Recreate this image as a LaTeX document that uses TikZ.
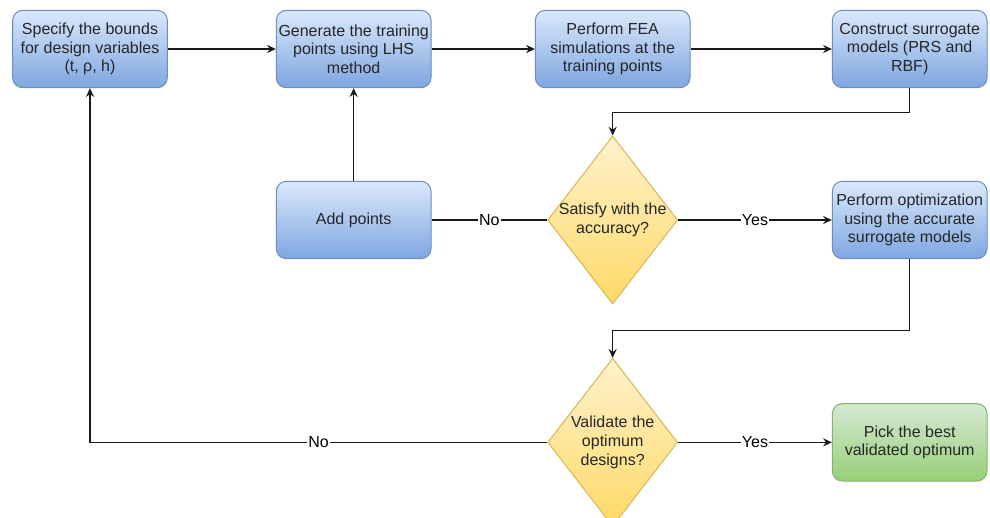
\documentclass[tikz,border=0pt]{standalone}
\usepackage{fontspec}
\setmainfont{Liberation Sans}
\usepackage{tikz}
\usetikzlibrary{arrows.meta,positioning,shapes.geometric}
\definecolor{BlueTop}{HTML}{DAE8FC}
\definecolor{BlueBot}{HTML}{7EA6E0}
\definecolor{BlueLine}{HTML}{6C8EBF}
\definecolor{YelTop}{HTML}{FFF2CC}
\definecolor{YelBot}{HTML}{FFD966}
\definecolor{YelLine}{HTML}{D6B656}
\definecolor{GrnTop}{HTML}{D5E8D4}
\definecolor{GrnBot}{HTML}{97D077}
\definecolor{GrnLine}{HTML}{82B366}

\begin{document}
\begin{tikzpicture}[
    x=0.75pt, y=-0.75pt,
    font=\fontsize{12}{13.9}\selectfont,
    stepbox/.style={draw=BlueLine, rounded corners=7.5pt, top color=BlueTop, bottom color=BlueBot,
      minimum width=116pt, minimum height=58pt, inner sep=1pt, align=center, text=black!85, line width=0.75pt},
    endbox/.style={stepbox, draw=GrnLine, top color=GrnTop, bottom color=GrnBot},
    decision/.style={diamond, draw=YelLine, top color=YelTop, bottom color=YelBot, inner sep=-6pt,
      minimum width=97.5pt, minimum height=126pt, align=center, text=black!85, line width=0.75pt},
    flow/.style={-{Stealth[length=6.5pt,width=6pt]}, line width=1pt, black!90},
    plain/.style={line width=1pt, black!90},
    lbl/.style={fill=white, inner sep=1pt, text=black}
  ]
    \clip (0,0) rectangle (990,518);
    \node[stepbox] (bounds) at (90,49) {Specify the bounds\\for design variables\\(t, ρ, h)};
    \node[stepbox, right=81pt of bounds] (train) {Generate the training\\points using LHS\\method};
    \node[stepbox, right=77.5pt of train] (fea) {Perform FEA\\simulations at the\\training points};
    \node[stepbox, right=106pt of fea] (surr) {Construct surrogate\\models (PRS and\\RBF)};
    \node[stepbox, below=69.5pt of train] (add) {Add points};
    \node[decision] (satisfy) at (fea |- add) {Satisfy with the\\accuracy?};
    \node[stepbox] (optim) at (surr |- add) {Perform optimization\\using the accurate\\surrogate models};
    \node[decision, below=40pt of satisfy] (valid) {Validate the\\optimum\\designs?};
    \node[endbox] (best) at (surr |- valid) {Pick the best\\validated optimum};
    % connectors
    \draw[flow] (bounds) -- (train);
    \draw[flow] (train) -- (fea);
    \draw[flow] (fea) -- (surr);
    \draw[flow] (surr.south) -- ++(0,24) -| (satisfy.north);
    \draw[plain] (satisfy) -- node[lbl]{No} (add);
    \draw[flow] (add) -- (train);
    \draw[flow] (satisfy) -- node[lbl]{Yes} (optim);
    \draw[flow] (optim.south) -- ++(0,71) -| (valid.north);
    \draw[flow] (valid) -- node[lbl]{Yes} (best);
    \draw[flow] (valid.west) -| node[lbl,pos=0.25]{No} (bounds.south);
  \end{tikzpicture}
\end{document}
